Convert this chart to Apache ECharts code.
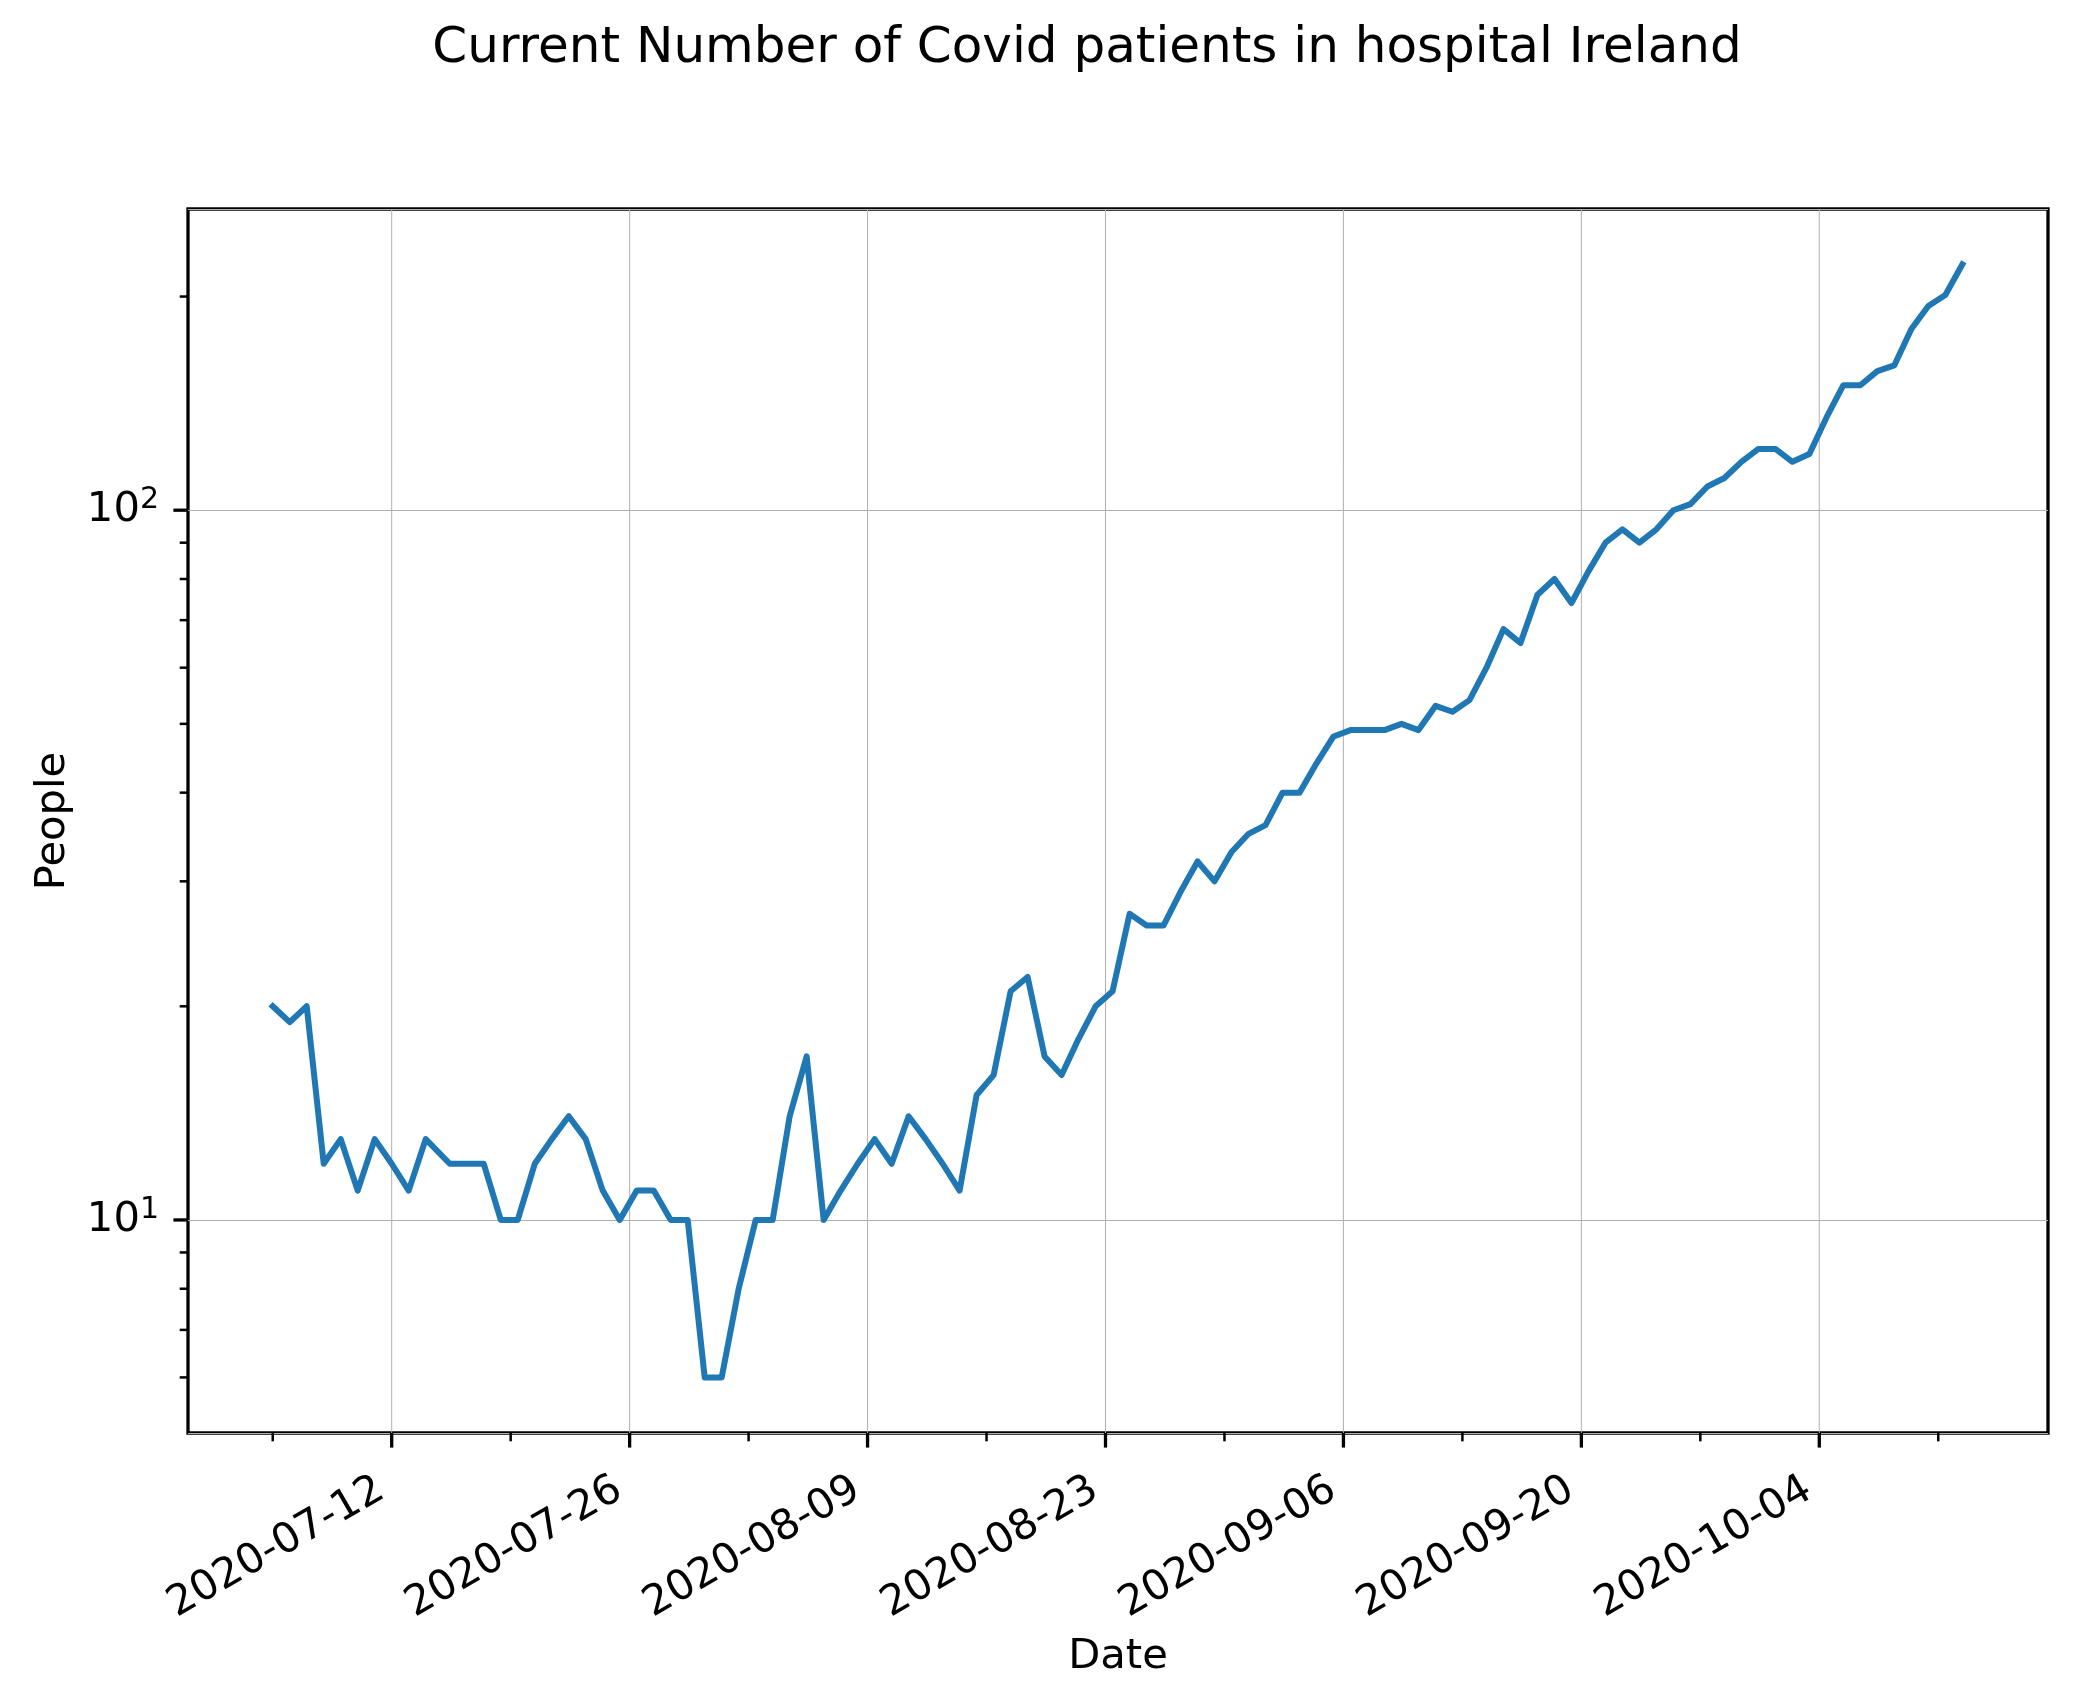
<!DOCTYPE html>
<html>
<head>
<meta charset="utf-8">
<title>Covid patients in hospital Ireland</title>
<script src="https://cdn.jsdelivr.net/npm/echarts@6/dist/echarts.min.js"></script>
<style>
  html, body { margin: 0; padding: 0; background: #fff; }
  #chart { width: 2077px; height: 1705px; }
</style>
</head>
<body>
<div id="chart"></div>
<script>
// one reading a day, the first on 2020-07-05
const firstDay = '2020-07-05'
const people = [
  20, 19, 20, 12, 13, 11, 13, 12, 11, 13,
  12, 12, 12, 10, 10, 12, 13, 14, 13, 11,
  10, 11, 11, 10, 10, 6, 6, 8, 10, 10,
  14, 17, 10, 11, 12, 13, 12, 14, 13, 12,
  11, 15, 16, 21, 22, 17, 16, 18, 20, 21,
  27, 26, 26, 29, 32, 30, 33, 35, 36, 40,
  40, 44, 48, 49, 49, 49, 50, 49, 53, 52,
  54, 60, 68, 65, 76, 80, 74, 82, 90, 94,
  90, 94, 100, 102, 108, 111, 117, 122, 122, 117,
  120, 135, 150, 150, 157, 160, 180, 194, 201, 222
]
// from the 11th reading on, the timestamps sit about 10 hours into the day
const lateFrom = 10
const lateHours = 10

const majorTicks = ['2020-07-12', '2020-07-26', '2020-08-09', '2020-08-23', '2020-09-06', '2020-09-20', '2020-10-04']
const minorTicks = ['2020-07-05', '2020-07-19', '2020-08-02', '2020-08-16', '2020-08-30', '2020-09-13', '2020-09-27', '2020-10-11']
const yMajorTicks = [10, 100]
const yMinorTicks = [6, 7, 8, 9, 20, 30, 40, 50, 60, 70, 80, 90, 200]

const DAY = 86400000
const ts = s => Date.parse(s + 'T00:00:00Z')
const t0 = ts(firstDay)
const points = people.map((v, i) => [t0 + i * DAY + (i >= lateFrom ? lateHours * 3600000 : 0), v])

// axis limits (matplotlib's 5% margins)
const xMin = ts('2020-06-30') + 0.014 * DAY
const xMax = ts('2020-10-17') + 0.457 * DAY
const yMin = 5.01
const yMax = 265.7

const font = 'DejaVu Sans'
const labelSize = 41.7

function xTicks (len, width, labels) {
  return function (params, api) {
    const cs = params.coordSys
    const x = api.coord([api.value(0), 10])[0]
    const bottom = cs.y + cs.height
    const children = [{
      type: 'line',
      shape: { x1: x, y1: bottom, x2: x, y2: bottom + len },
      style: { stroke: '#000', lineWidth: width }
    }]
    if (labels) {
      children.push({
        type: 'line',
        shape: { x1: x, y1: cs.y, x2: x, y2: bottom },
        style: { stroke: '#b0b0b0', lineWidth: 1 }
      })
      children.push({
        type: 'text',
        x: x,
        y: bottom + 29 + 43,
        rotation: Math.PI / 6,
        style: {
          text: labels[params.dataIndex],
          fontSize: labelSize,
          fontFamily: font,
          fill: '#000',
          align: 'right',
          verticalAlign: 'bottom'
        }
      })
    }
    return { type: 'group', children: children }
  }
}

function yTicks (len, width) {
  return function (params, api) {
    const cs = params.coordSys
    const y = api.coord([xMin, api.value(1)])[1]
    return {
      type: 'line',
      shape: { x1: cs.x - len, y1: y, x2: cs.x, y2: y },
      style: { stroke: '#000', lineWidth: width }
    }
  }
}

const chart = echarts.init(document.getElementById('chart'))
chart.setOption({
  animation: false,
  backgroundColor: '#fff',
  title: {
    text: 'Current Number of Covid patients in hospital Ireland',
    left: 1087,
    top: 24,
    padding: 0,
    textAlign: 'center',
    textStyle: { fontSize: 50, fontWeight: 'normal', color: '#000', fontFamily: font }
  },
  grid: {
    left: 188,
    top: 209,
    width: 1860,
    height: 1224,
    show: true,
    borderColor: '#000',
    borderWidth: 3.3,
    backgroundColor: 'transparent'
  },
  xAxis: {
    type: 'time',
    min: xMin,
    max: xMax,
    axisLine: { show: false },
    axisTick: { show: false },
    axisLabel: { show: false },
    splitLine: { show: false },
    name: 'Date',
    nameLocation: 'middle',
    nameGap: 203,
    nameTextStyle: { fontSize: labelSize, color: '#000', fontFamily: font }
  },
  yAxis: {
    type: 'log',
    logBase: 10,
    min: yMin,
    max: yMax,
    axisLine: { show: false },
    axisTick: { show: false },
    splitLine: { show: true, lineStyle: { color: '#b0b0b0', width: 1 } },
    axisLabel: {
      margin: 29,
      color: '#000',
      fontFamily: font,
      showMinLabel: false,
      showMaxLabel: false,
      formatter: function (v) {
        const e = Math.log10(v)
        if (Math.abs(e - Math.round(e)) > 1e-6) return ''
        return '{b|10}{s|' + Math.round(e) + '}'
      },
      rich: {
        b: { fontSize: labelSize, lineHeight: 50, fontFamily: font, color: '#000' },
        s: { fontSize: 30, lineHeight: 30, verticalAlign: 'top', fontFamily: font, color: '#000' }
      }
    },
    name: 'People',
    nameLocation: 'middle',
    nameGap: 114,
    nameTextStyle: { fontSize: labelSize, color: '#000', fontFamily: font }
  },
  series: [
    {
      type: 'custom',
      name: 'x major',
      z: 1,
      clip: false,
      silent: true,
      renderItem: xTicks(14.6, 3.3, majorTicks),
      data: majorTicks.map(d => [ts(d), 10])
    },
    {
      type: 'custom',
      name: 'x minor',
      z: 1,
      clip: false,
      silent: true,
      renderItem: xTicks(8.3, 2.5, null),
      data: minorTicks.map(d => [ts(d), 10])
    },
    {
      type: 'custom',
      name: 'y major',
      z: 1,
      clip: false,
      silent: true,
      renderItem: yTicks(14.6, 3.3),
      data: yMajorTicks.map(v => [xMin, v])
    },
    {
      type: 'custom',
      name: 'y minor',
      z: 1,
      clip: false,
      silent: true,
      renderItem: yTicks(8.3, 2.5),
      data: yMinorTicks.map(v => [xMin, v])
    },
    {
      type: 'line',
      name: 'People',
      z: 3,
      data: points,
      showSymbol: false,
      symbol: 'none',
      lineStyle: { color: '#1f77b4', width: 6, cap: 'square', join: 'round' }
    }
  ]
})
</script>
</body>
</html>
